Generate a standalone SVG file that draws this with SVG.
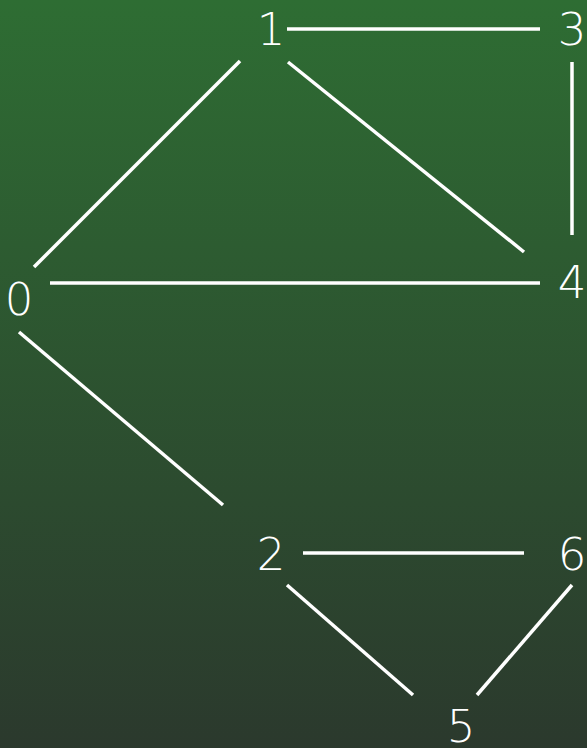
<svg xmlns="http://www.w3.org/2000/svg" width="587" height="748" viewBox="0 0 587 748">
<defs>
<linearGradient id="bg" x1="0" y1="0" x2="0" y2="1">
<stop offset="0" stop-color="#2e6d33"/>
<stop offset="1" stop-color="#2b392d"/>
</linearGradient>
</defs>
<style>
.lbl{font-family:"DejaVu Sans",sans-serif;font-weight:200;font-size:45px;fill:#ffffff;text-anchor:middle}
.e{stroke:#ffffff;stroke-width:3.5;fill:none}
</style>
<rect width="587" height="748" fill="url(#bg)"/>
<g id="edges">
<line class="e" x1="287" y1="29" x2="540" y2="29"/>
<line class="e" x1="240" y1="61" x2="34" y2="267"/>
<line class="e" x1="288" y1="62" x2="524" y2="252"/>
<line class="e" x1="572" y1="62" x2="572" y2="235"/>
<line class="e" x1="50" y1="283" x2="540" y2="283"/>
<line class="e" x1="19" y1="332" x2="223" y2="505"/>
<line class="e" x1="303" y1="553" x2="524" y2="553"/>
<line class="e" x1="287" y1="585" x2="413" y2="695"/>
<line class="e" x1="572" y1="585" x2="477" y2="695"/>
</g>
<g id="n1"><text class="lbl" x="271" y="45">1</text></g>
<g id="n3"><text class="lbl" x="572" y="45">3</text></g>
<g id="n0"><text class="lbl" x="19" y="315">0</text></g>
<g id="n4"><text class="lbl" x="572" y="298">4</text></g>
<g id="n2"><text class="lbl" x="271" y="570">2</text></g>
<g id="n6"><text class="lbl" x="572" y="570">6</text></g>
<g id="n5"><text class="lbl" x="461" y="742">5</text></g>
</svg>
